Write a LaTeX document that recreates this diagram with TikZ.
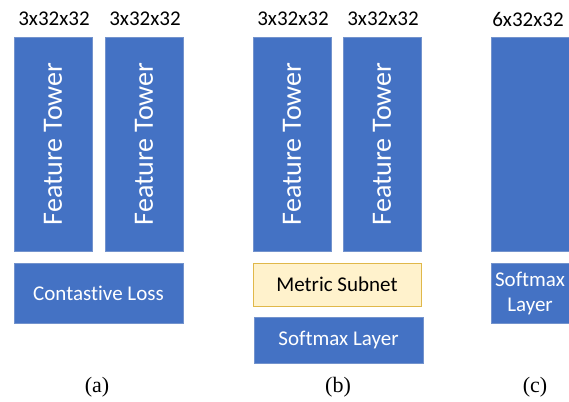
\documentclass[tikz,border=0pt]{standalone}
\usepackage{fontspec}
\setmainfont{Liberation Serif}
\newfontfamily\calibri[Ligatures=NoCommon]{Carlito}
\definecolor{towerblue}{HTML}{4472C4}
\definecolor{towerline}{HTML}{7393CD}
\definecolor{subnetfill}{HTML}{FFF2CC}
\definecolor{subnetline}{HTML}{E0B84A}
\tikzset{
  block/.style={draw=towerline, fill=towerblue, line width=0.8pt, inner sep=0pt, outer sep=0pt,
    text=white, font=\calibri\fontsize{21}{25}\selectfont, align=center},
  tower/.style={block, rotate=90, minimum width=214pt, minimum height=78pt,
    font=\calibri\fontsize{28}{32}\selectfont},
  subnet/.style={block, draw=subnetline, fill=subnetfill, text=black},
  dimlabel/.style={font=\calibri\fontsize{21}{25}\selectfont},
  caption/.style={font=\fontsize{22}{26}\selectfont}
}
\begin{document}
\begin{tikzpicture}[x=1pt, y=-1pt]
  \useasboundingbox (0,0) rectangle (569,401);

  %%%%% (a) %%%%%
  \node[dimlabel] (dimA1) at (54,19) {3x32x32};
  \node[dimlabel] (dimA2) at (145,19) {3x32x32};
  \node[tower] (towerA1) at (53,144) {Feature Tower};
  \node[tower] (towerA2) at (144,144) {Feature Tower};
  \node[block, minimum width=169pt, minimum height=60pt] (lossA) at (98.5,293) {Contastive Loss};
  \node[caption] (capA) at (97,387) {(a)};

  %%%%% (b) %%%%%
  \node[dimlabel] (dimB1) at (293,19) {3x32x32};
  \node[dimlabel] (dimB2) at (383,19) {3x32x32};
  \node[tower] (towerB1) at (292,144) {Feature Tower};
  \node[tower] (towerB2) at (382,144) {Feature Tower};
  \node[subnet, minimum width=168pt, minimum height=43pt] (subnetB) at (337,284.5) {Metric Subnet};
  \node[block, minimum width=169pt, minimum height=46pt] (softmaxB) at (338.5,340) {Softmax Layer};
  \node[caption] (capB) at (338,387) {(b)};

  %%%%% (c) %%%%%
  \node[dimlabel] (dimC) at (528,19) {6x32x32};
  \node[block, minimum width=78pt, minimum height=214pt] (towerC) at (530,144) {};
  \node[block, minimum width=78pt, minimum height=60pt] (softmaxC) at (530,293) {Softmax\\Layer};
  \node[caption] (capC) at (535,387) {(c)};
\end{tikzpicture}
\end{document}
